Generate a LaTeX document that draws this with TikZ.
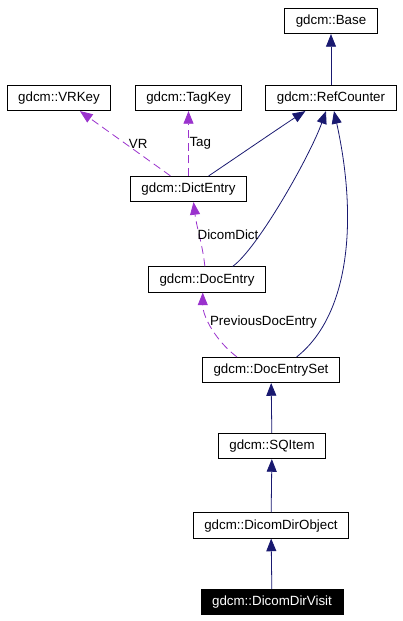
\documentclass[tikz,border=0pt]{standalone}
\usepackage{fontspec}
\setmainfont{Liberation Sans}
\usetikzlibrary{arrows.meta}
\definecolor{navyedge}{HTML}{191970}
\definecolor{orchidedge}{HTML}{9A32CD}

\begin{document}
\begin{tikzpicture}[x=0.75pt, y=-0.75pt,
  every node/.style={font=\fontsize{10}{12}\selectfont},
  cls/.style={draw,rectangle,line width=0.6pt,inner xsep=8.3pt,minimum height=19pt,text height=7.4pt,text depth=2.1pt},
  inherit/.style={draw=navyedge,line width=0.6pt,-{Triangle[length=9.5pt,width=7.5pt]}},
  member/.style={draw=orchidedge,line width=0.6pt,dash pattern=on 6pt off 3.5pt,-{Triangle[length=9.5pt,width=7.5pt]}},
  lbl/.style={anchor=west,inner sep=0.5pt}]

\useasboundingbox (0,0) rectangle (403,621);

\node[cls] (10) at (331,21) {gdcm::Base};
\node[cls] (21) at (59,98) {gdcm::VRKey};
\node[cls] (22) at (188.5,98) {gdcm::TagKey};
\node[cls] (20) at (331,98) {gdcm::RefCounter};
\node[cls] (30) at (188.5,189) {gdcm::DictEntry};
\node[cls] (40) at (207,279.5) {gdcm::DocEntry};
\node[cls] (50) at (271,370) {gdcm::DocEntrySet};
\node[cls] (60) at (272,446) {gdcm::SQItem};
\node[cls] (70) at (271,525.5) {gdcm::DicomDirObject};
\node[cls,fill=black,text=white] (80) at (272,602) {gdcm::DicomDirVisit};

%inheritance
\draw[inherit] (20) -- (10);
\draw[inherit] (30.33) .. controls +(15,-10) and +(-22,14) .. (20.207);
\draw[inherit] (40.27) .. controls +(25,-18) and +(-16,45) .. (20.249);
\draw[inherit] (50.27) .. controls +(53,-42) and +(24,109) .. (20.283);
\draw[inherit] (60) -- (50);
\draw[inherit] (70) -- (60);
\draw[inherit] (80) -- (70);

%members
\draw[member] (30.144) -- node[lbl,xshift=2pt] (31) {VR} (21.328);
\draw[member] (30.north) -- node[lbl] (32) {Tag} (22.south);
\draw[member] (40.99) .. controls +(-3,-25) and +(3,25) .. node[lbl,xshift=-2pt] (41) {DicomDict} (30.291);
\draw[member] (50.159) .. controls +(-20,-15) and +(0,25) .. node[lbl,pos=0.6] (51) {PreviousDocEntry} (40.252);

\end{tikzpicture}
\end{document}
